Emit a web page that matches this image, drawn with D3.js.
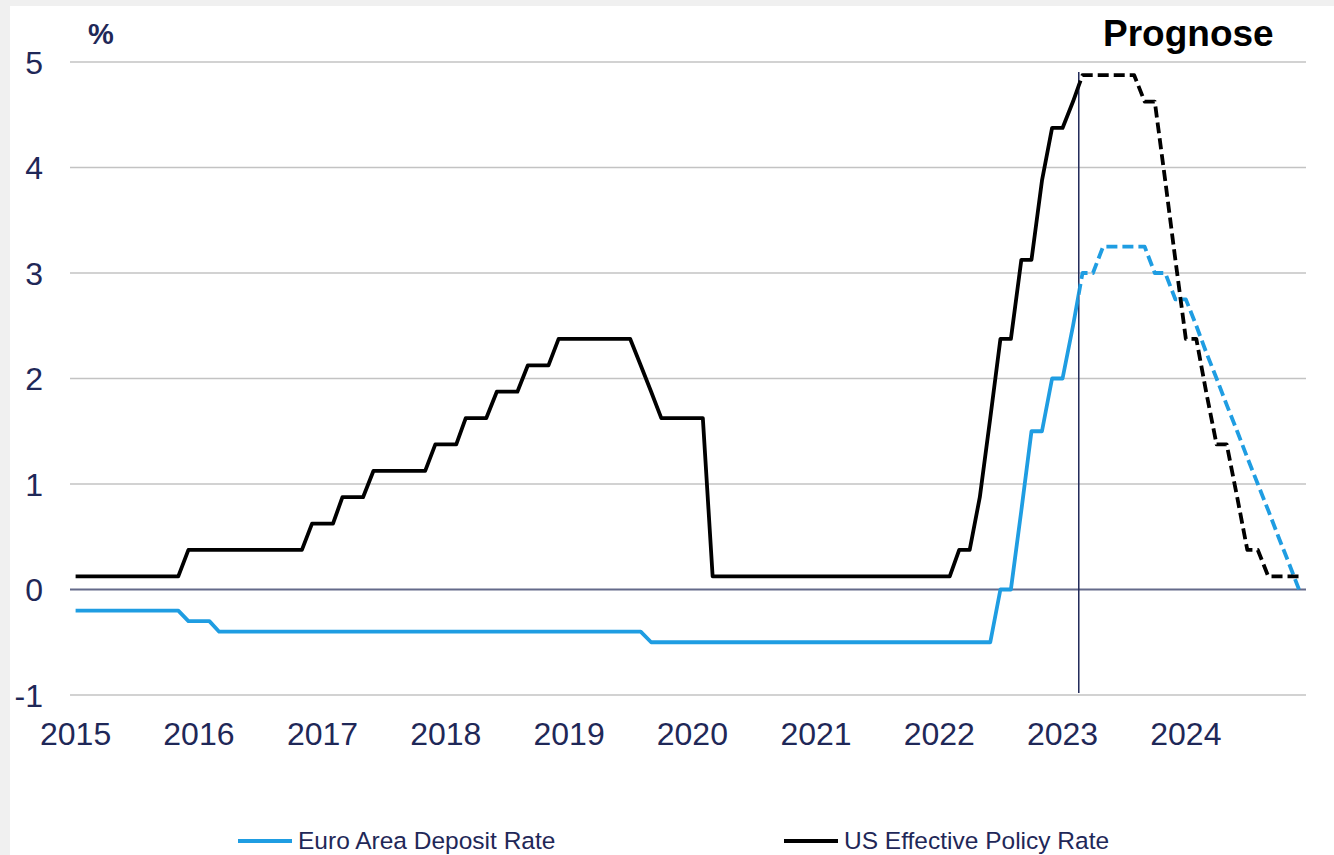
<!DOCTYPE html>
<html>
<head>
<meta charset="utf-8">
<script src="https://cdn.jsdelivr.net/npm/d3@7"></script>
<style>
  body { margin: 0; background: #f0f0f0; }
  svg { display: block; font-family: "Liberation Sans", Arial, sans-serif; }
</style>
</head>
<body>
<script>
var w = 1334;
var h = 855;

// monthly values, Jan 2015 .. Dec 2024 (forecast after mid Feb 2023)
var startMonth = new Date(2015, 0, 1);
var endMonth = new Date(2024, 11, 1);
var forecastFrom = new Date(2023, 1, 18);

var euroRate = [
  -0.2, -0.2, -0.2, -0.2, -0.2, -0.2, -0.2, -0.2, -0.2, -0.2, -0.2, -0.3,   // 2015
  -0.3, -0.3, -0.4, -0.4, -0.4, -0.4, -0.4, -0.4, -0.4, -0.4, -0.4, -0.4,   // 2016
  -0.4, -0.4, -0.4, -0.4, -0.4, -0.4, -0.4, -0.4, -0.4, -0.4, -0.4, -0.4,   // 2017
  -0.4, -0.4, -0.4, -0.4, -0.4, -0.4, -0.4, -0.4, -0.4, -0.4, -0.4, -0.4,   // 2018
  -0.4, -0.4, -0.4, -0.4, -0.4, -0.4, -0.4, -0.4, -0.5, -0.5, -0.5, -0.5,   // 2019
  -0.5, -0.5, -0.5, -0.5, -0.5, -0.5, -0.5, -0.5, -0.5, -0.5, -0.5, -0.5,   // 2020
  -0.5, -0.5, -0.5, -0.5, -0.5, -0.5, -0.5, -0.5, -0.5, -0.5, -0.5, -0.5,   // 2021
  -0.5, -0.5, -0.5, -0.5, -0.5, -0.5, 0, 0, 0.75, 1.5, 1.5, 2.0,            // 2022
  2.0, 2.5, 3.0, 3.0, 3.25, 3.25, 3.25, 3.25, 3.25, 3.0, 3.0, 2.75,         // 2023
  2.75, 2.5, 2.25, 2.0, 1.75, 1.5, 1.25, 1.0, 0.75, 0.5, 0.25, 0.0          // 2024
];

var usRate = [
  0.125, 0.125, 0.125, 0.125, 0.125, 0.125, 0.125, 0.125, 0.125, 0.125, 0.125, 0.375,  // 2015
  0.375, 0.375, 0.375, 0.375, 0.375, 0.375, 0.375, 0.375, 0.375, 0.375, 0.375, 0.625,  // 2016
  0.625, 0.625, 0.875, 0.875, 0.875, 1.125, 1.125, 1.125, 1.125, 1.125, 1.125, 1.375,  // 2017
  1.375, 1.375, 1.625, 1.625, 1.625, 1.875, 1.875, 1.875, 2.125, 2.125, 2.125, 2.375,  // 2018
  2.375, 2.375, 2.375, 2.375, 2.375, 2.375, 2.375, 2.125, 1.875, 1.625, 1.625, 1.625,  // 2019
  1.625, 1.625, 0.125, 0.125, 0.125, 0.125, 0.125, 0.125, 0.125, 0.125, 0.125, 0.125,  // 2020
  0.125, 0.125, 0.125, 0.125, 0.125, 0.125, 0.125, 0.125, 0.125, 0.125, 0.125, 0.125,  // 2021
  0.125, 0.125, 0.375, 0.375, 0.875, 1.625, 2.375, 2.375, 3.125, 3.125, 3.875, 4.375,  // 2022
  4.375, 4.625, 4.875, 4.875, 4.875, 4.875, 4.875, 4.875, 4.625, 4.625, 3.875, 3.125,  // 2023
  2.375, 2.375, 1.875, 1.375, 1.375, 0.875, 0.375, 0.375, 0.125, 0.125, 0.125, 0.125   // 2024
];

var yearLabels = ["2015", "2016", "2017", "2018", "2019", "2020", "2021", "2022", "2023", "2024"];
var yTicks = [-1, 0, 1, 2, 3, 4, 5];
var seriesNames = ["Euro Area Deposit Rate", "US Effective Policy Rate"];
var seriesColors = ["#1f9de2", "#000000"];

var navy = "#1f2858";

var x = d3.scaleTime()
          .domain([startMonth, endMonth])
          .range([75.6, 1299]);
var y = d3.scaleLinear()
          .domain([-1, 5])
          .range([695, 62]);

var svg = d3.select("body")
            .append("svg")
              .attr("width", w)
              .attr("height", h);

// white chart area (grey frame strip on top / left like the source)
svg.append("rect")
    .attr("x", 10)
    .attr("y", 6)
    .attr("width", w - 10)
    .attr("height", h - 6)
    .attr("fill", "#ffffff");

// horizontal gridlines
svg.selectAll(".grid")
    .data(yTicks.filter(function(d) { return d !== 0; }))
    .enter()
    .append("line")
      .attr("class", "grid")
      .attr("x1", 70)
      .attr("x2", 1306)
      .attr("y1", function(d) { return y(d); })
      .attr("y2", function(d) { return y(d); })
      .attr("stroke", "#c3c3c3")
      .attr("stroke-width", 1.5);

svg.append("line")
    .attr("x1", 70)
    .attr("x2", 1306)
    .attr("y1", y(0))
    .attr("y2", y(0))
    .attr("stroke", "#646a8a")
    .attr("stroke-width", 2);

// y tick labels
svg.selectAll(".ylab")
    .data(yTicks)
    .enter()
    .append("text")
      .attr("class", "ylab")
      .attr("x", 43)
      .attr("y", function(d) { return y(d) + 11.5; })
      .attr("text-anchor", "end")
      .attr("font-size", 32)
      .attr("fill", navy)
      .text(function(d) { return d; });

svg.append("text")
    .attr("x", 101)
    .attr("y", 44)
    .attr("text-anchor", "middle")
    .attr("font-size", 29)
    .attr("font-weight", "bold")
    .attr("fill", navy)
    .text("%");

// year labels at january of each year
svg.selectAll(".xlab")
    .data(yearLabels)
    .enter()
    .append("text")
      .attr("class", "xlab")
      .attr("x", function(d) { return x(new Date(+d, 0, 1)); })
      .attr("y", 745)
      .attr("text-anchor", "middle")
      .attr("font-size", 32)
      .attr("fill", navy)
      .text(function(d) { return d; });

// forecast marker
var xf = x(forecastFrom);
svg.append("line")
    .attr("x1", xf)
    .attr("x2", xf)
    .attr("y1", 72)
    .attr("y2", 693)
    .attr("stroke", navy)
    .attr("stroke-width", 1.5);

svg.append("text")
    .attr("x", 1103)
    .attr("y", 46)
    .attr("font-size", 37)
    .attr("font-weight", "bold")
    .attr("fill", "#000")
    .text("Prognose");

// clips: actual left of marker, forecast right of it
var defs = svg.append("defs");
defs.append("clipPath").attr("id", "clipActual")
    .append("rect")
      .attr("x", 0).attr("y", 0)
      .attr("width", xf).attr("height", h);
defs.append("clipPath").attr("id", "clipForecast")
    .append("rect")
      .attr("x", xf).attr("y", 0)
      .attr("width", w - xf).attr("height", h);

function toPoints(values) {
  return values.map(function(v, i) {
    return { date: d3.timeMonth.offset(startMonth, i), value: v };
  });
}

var series = [toPoints(euroRate), toPoints(usRate)];

var line = d3.line()
             .x(function(d) { return x(d.date); })
             .y(function(d) { return y(d.value); });

series.forEach(function(pts, i) {
  svg.append("path")
      .datum(pts)
      .attr("d", line)
      .attr("fill", "none")
      .attr("stroke", seriesColors[i])
      .attr("stroke-width", 3.8)
      .attr("stroke-linejoin", "round")
      .attr("clip-path", "url(#clipActual)");

  svg.append("path")
      .datum(pts)
      .attr("d", line)
      .attr("fill", "none")
      .attr("stroke", seriesColors[i])
      .attr("stroke-width", 3.8)
      .attr("stroke-dasharray", "11,5")
      .attr("stroke-linejoin", "round")
      .attr("clip-path", "url(#clipForecast)");
});

// legend
var legendX = [238, 784];
var legend = svg.selectAll(".legend")
                .data(seriesNames)
                .enter()
                .append("g")
                  .attr("class", "legend")
                  .attr("transform", function(d, i) { return "translate(" + legendX[i] + ",841)"; });

legend.append("line")
    .attr("x1", 0)
    .attr("x2", 54)
    .attr("stroke", function(d, i) { return seriesColors[i]; })
    .attr("stroke-width", 4);

legend.append("text")
    .attr("x", 60)
    .attr("y", 8)
    .attr("font-size", 24.5)
    .attr("fill", navy)
    .text(function(d) { return d; });
</script>
</body>
</html>
